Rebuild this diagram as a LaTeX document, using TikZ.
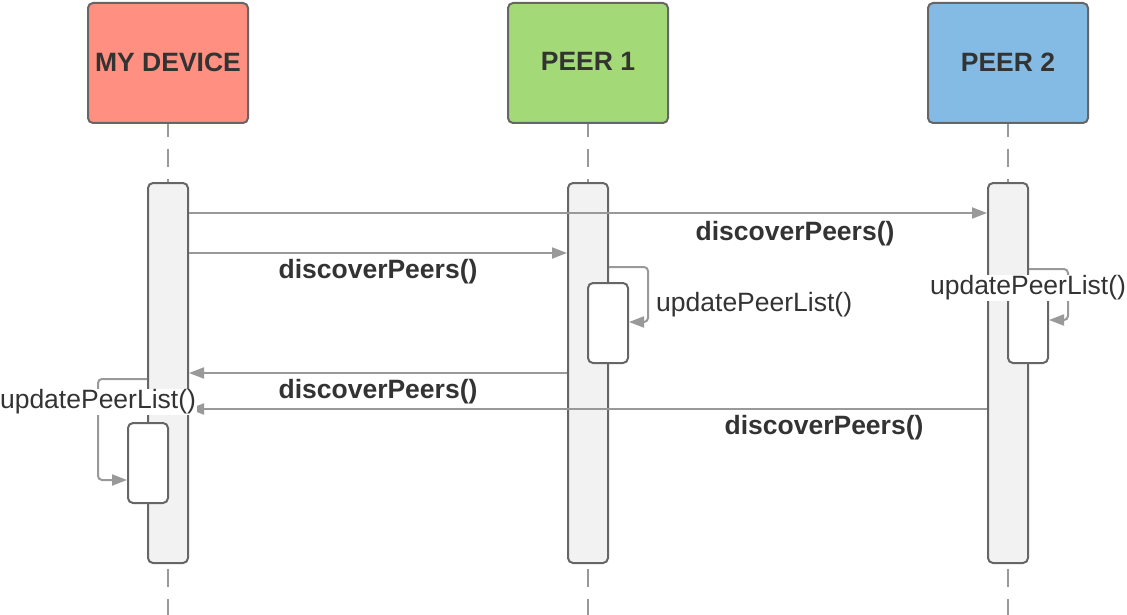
\documentclass[tikz,border=0pt]{standalone}
\usepackage{fontspec}
\setmainfont{Liberation Sans}
\usetikzlibrary{arrows.meta}
\definecolor{txt}{HTML}{333333}
\definecolor{edge}{HTML}{666666}
\definecolor{wire}{HTML}{999999}
\definecolor{redf}{HTML}{FF8F80}
\definecolor{greenf}{HTML}{A3D977}
\definecolor{bluef}{HTML}{83BBE5}
\definecolor{barf}{HTML}{F2F2F2}
\tikzset{
  head/.style={draw=edge, line width=2pt, rounded corners=5pt, minimum width=160pt, minimum height=120pt, inner sep=0pt, text=txt, font=\fontsize{26.5}{30}\selectfont\bfseries},
  actbar/.style={draw=edge, line width=2pt, rounded corners=5pt, fill=barf, minimum width=40pt, minimum height=380pt, inner sep=0pt},
  subact/.style={draw=edge, line width=2pt, rounded corners=5pt, fill=white, minimum width=40pt, minimum height=80pt, inner sep=0pt},
  life/.style={draw=wire, line width=2pt, dash pattern=on 18pt off 12pt, dash phase=5pt},
  msg/.style={draw=wire, line width=2pt, -{Triangle[length=15pt,width=11pt]}},
  loopmsg/.style={msg, rounded corners=4pt},
  blab/.style={text=txt, font=\fontsize{26.5}{30}\selectfont\bfseries, inner sep=1pt},
  nlab/.style={text=txt, font=\fontsize{26.5}{30}\selectfont, inner sep=1pt, fill=white},
}
\begin{document}
\begin{tikzpicture}[x=1pt,y=-1pt]
\useasboundingbox (0,0) rectangle (1127,615);
% headers
\node[head, fill=redf] (h1) at (168,63) {\raisebox{2.5pt}{MY DEVICE}};
\node[head, fill=greenf] (h2) at (588,63) {\raisebox{2.5pt}{PEER 1}};
\node[head, fill=bluef] (h3) at (1008,63) {\raisebox{2.5pt}{PEER 2}};
% lifeline ends
\coordinate (e1) at (168,615);
\coordinate (e2) at (588,615);
\coordinate (e3) at (1008,615);
\draw[life] (h1.south) -- (e1);
\draw[life] (h2.south) -- (e2);
\draw[life] (h3.south) -- (e3);
% activation bars
\node[actbar] (a1) at (168,373) {};
\node[actbar] (a2) at (588,373) {};
\node[actbar] (a3) at (1008,373) {};
% sub activations
\node[subact] (s2) at (608,323) {};
\node[subact] (s3) at (1028,323) {};
\node[subact] (s1) at (148,463) {};
% messages
\draw[msg] (a1.east |- 0,213) -- (a3.west |- 0,213);
\draw[msg] (a1.east |- 0,253) -- (a2.west |- 0,253);
\draw[msg] (a2.west |- 0,373) -- (a1.east |- 0,373);
\draw[msg] (a3.west |- 0,409) -- (a1.east |- 0,409);
% self calls
\draw[loopmsg] (a2.east |- 0,267) -| (648,322) -- (s2.east |- 0,322);
\draw[loopmsg] (a3.east |- 0,269) -| (1068,320) -- (s3.east |- 0,320);
\draw[loopmsg] (a1.west |- 0,379) -| (98,480) -- (s1.west |- 0,480);
% labels
\node[blab] (l1) at (795,234) {discoverPeers()};
\node[blab] (l2) at (378,272) {discoverPeers()};
\node[blab] (l3) at (378,392) {discoverPeers()};
\node[blab] (l4) at (824,428) {discoverPeers()};
\node[nlab, anchor=west, fill=none] (u2) at (655,305) {updatePeerList()};
\node[nlab] (u3) at (1028,288) {updatePeerList()};
\node[nlab] (u1) at (98,402) {updatePeerList()};
\end{tikzpicture}
\end{document}
